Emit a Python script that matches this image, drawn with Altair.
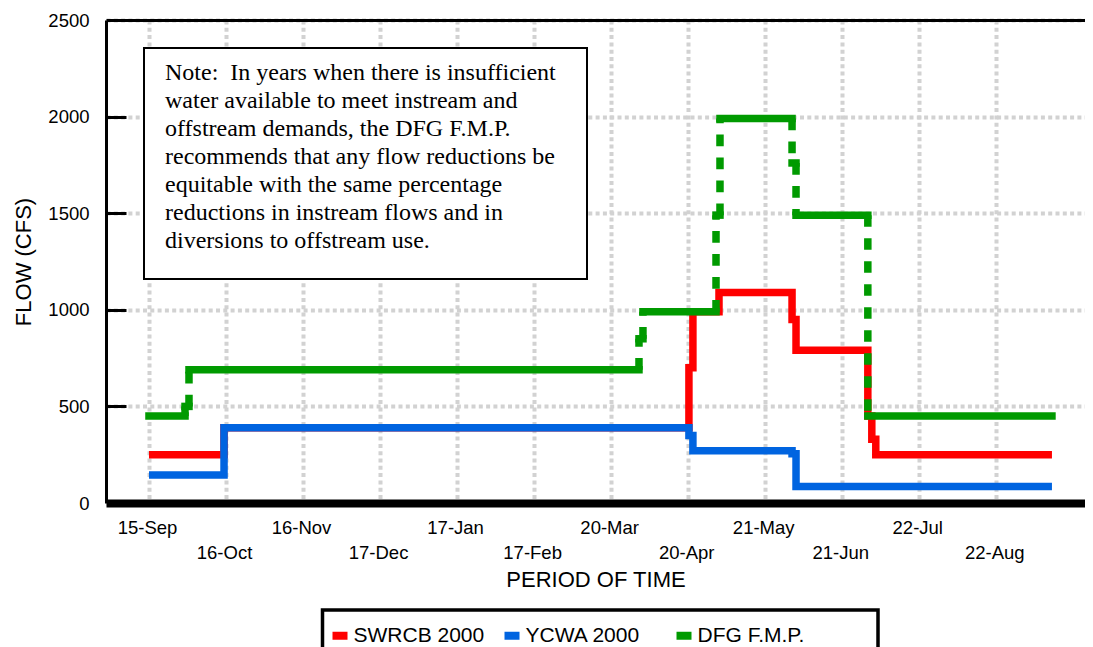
import json
import altair as alt
import pandas as pd

# ---------------- data ----------------
SERIES = ["SWRCB 2000", "YCWA 2000", "DFG F.M.P."]
COLORS = ["#ff0000", "#0064e0", "#009a00"]

# day counted from 15-Sep; step changes (value holds until next day listed)
RED_DAY = [0, 30.2, 217.3, 218.9, 229.4, 258.8, 260.4, 289.3, 290.9, 292.5, 363.4]
RED_CFS = [250, 390, 700, 990, 1090, 950, 790, 450, 330, 250, 250]

BLUE_DAY = [0, 30.2, 217.3, 218.9, 258.8, 260.4, 363.4]
BLUE_CFS = [145, 390, 350, 270, 255, 85, 85]

GREEN_DAY = [0, 14.5, 16.1, 197.2, 198.8, 228.2, 229.8, 258.8, 260.4, 289.3, 363.4]
GREEN_CFS = [450, 500, 690, 850, 990, 1490, 1990, 1760, 1490, 450, 450]

TICK_DAYS = [0, 31, 62, 93, 124, 155, 186, 217, 248, 279, 310, 341]
TICK_LABELS = ["15-Sep", "16-Oct", "16-Nov", "17-Dec", "17-Jan", "17-Feb",
               "20-Mar", "20-Apr", "21-May", "21-Jun", "22-Jul", "22-Aug"]
Y_TICKS = [0, 500, 1000, 1500, 2000, 2500]
Y_INNER_TICKS = [500, 1000, 1500, 2000]

NOTE_LINES = [
    "Note:\u00a0 In years when there is insufficient",
    "water available to meet instream and",
    "offstream demands, the DFG F.M.P.",
    "recommends that any flow reductions be",
    "equitable with the same percentage",
    "reductions in instream flows and in",
    "diversions to offstream use.",
]

# ---------------- tables ----------------
red_df = pd.DataFrame({"day": RED_DAY, "cfs": RED_CFS, "series": SERIES[0]})
blue_df = pd.DataFrame({"day": BLUE_DAY, "cfs": BLUE_CFS, "series": SERIES[1]})
green_h = pd.DataFrame({"day": GREEN_DAY[:-1], "day2": GREEN_DAY[1:],
                        "cfs": GREEN_CFS[:-1], "series": SERIES[2]})
gv = [(GREEN_DAY[i + 1], GREEN_CFS[i], GREEN_CFS[i + 1])
      for i in range(len(GREEN_DAY) - 1) if GREEN_CFS[i] != GREEN_CFS[i + 1]]
green_v = pd.DataFrame(gv, columns=["day", "cfs", "cfs2"])

# ---------------- styles ----------------
SANS = "Liberation Sans"
W, H = 979, 483
X_SCALE = alt.Scale(domain=[-17.3, 376.7], nice=False, zero=False)
Y_SCALE = alt.Scale(domain=[0, 2500], nice=False)
GRID = dict(grid=True, gridColor="#d2d2d2", gridDash=[4, 3.3], gridWidth=4)

lbl = json.dumps(TICK_LABELS)
label_expr = (f"round(datum.value/31) % 2 == 0 ? [{lbl}[round(datum.value/31)]]"
              f" : ['', {lbl}[round(datum.value/31)]]")

X_AXIS_MAIN = alt.Axis(values=TICK_DAYS, labelExpr=label_expr, labelFont=SANS,
                       labelFontSize=18.5, labelFontWeight="normal", labelColor="black",
                       labelPadding=15, labelOffset=-2,
                       labelLineHeight=25.5, labelOverlap=False, labelFlush=False,
                       ticks=False, tickSize=0, domainColor="black", domainWidth=8,
                       title="PERIOD OF TIME", titleFont=SANS, titleFontSize=22,
                       titleFontWeight="normal", titleColor="black", titlePadding=7,
                       **GRID)
Y_AXIS_MAIN = alt.Axis(values=Y_TICKS, format="d", labelFont=SANS, labelFontSize=18.5,
                       labelFontWeight="normal",
                       labelColor="black", labelPadding=17, ticks=False, tickSize=0,
                       domainColor="black", domainWidth=3, title="FLOW (CFS)",
                       titleFont=SANS, titleFontSize=22, titleFontWeight="normal",
                       titleColor="black", titlePadding=12, **GRID)
X_AXIS_TOP = alt.Axis(orient="top", labels=False, ticks=False, grid=False,
                      domainColor="black", domainWidth=3, title=None)
Y_AXIS_TICKS = alt.Axis(orient="right", offset=-W, values=Y_INNER_TICKS, labels=False,
                        domain=False, grid=False, ticks=True, tickSize=20, tickWidth=3,
                        tickColor="black", title=None)

LEGEND = alt.Legend(orient="none", legendX=222.5, legendY=604, direction="horizontal",
                    title=None, symbolType="stroke", symbolStrokeWidth=8, symbolSize=225,
                    labelFont=SANS, labelFontSize=21, labelColor="black", labelOffset=2,
                    columnPadding=4, gridAlign="all", padding=0, labelLimit=400)
COLOR = alt.Color("series:N", scale=alt.Scale(domain=SERIES, range=COLORS), legend=LEGEND)

LW = 7.5

red = alt.Chart(red_df).mark_line(interpolate="step-after", strokeWidth=LW).encode(
    x=alt.X("day:Q", scale=X_SCALE, axis=X_AXIS_MAIN),
    y=alt.Y("cfs:Q", scale=Y_SCALE, axis=Y_AXIS_MAIN),
    color=COLOR,
)
blue = alt.Chart(blue_df).mark_line(interpolate="step-after", strokeWidth=LW).encode(
    x=alt.X("day:Q", scale=X_SCALE, axis=X_AXIS_TOP),
    y=alt.Y("cfs:Q", scale=Y_SCALE, axis=Y_AXIS_TICKS),
    color=COLOR,
)
green_hl = alt.Chart(green_h).mark_rule(strokeWidth=LW, strokeCap="square").encode(
    x=alt.X("day:Q", scale=X_SCALE, axis=None),
    x2="day2:Q",
    y=alt.Y("cfs:Q", scale=Y_SCALE, axis=None),
    color=COLOR,
)
green_vl = alt.Chart(green_v).mark_rule(strokeWidth=LW, strokeDash=[11.7, 11.3],
                                        color=COLORS[2]).encode(
    x=alt.X("day:Q", scale=X_SCALE, axis=None),
    y=alt.Y("cfs:Q", scale=Y_SCALE, axis=None),
    y2="cfs2:Q",
)

one = pd.DataFrame({"k": [0]})
note_box = alt.Chart(one).mark_rect(fill="white", stroke="black", strokeWidth=2).encode(
    x=alt.value(38), x2=alt.value(481), y=alt.value(28), y2=alt.value(259))
note_text = alt.Chart(one).mark_text(align="left", baseline="alphabetic",
                                     font="Liberation Serif", fontSize=24, lineHeight=28,
                                     text=NOTE_LINES, color="black").encode(
    x=alt.value(59), y=alt.value(60))
legend_box = alt.Chart(one).mark_rect(fill="white", stroke="black", strokeWidth=3.5).encode(
    x=alt.value(216.5), x2=alt.value(772), y=alt.value(590), y2=alt.value(680))

chart = alt.layer(
    legend_box, red, blue, green_hl, green_vl, note_box, note_text
).resolve_scale(
    x="shared", y="shared", color="shared"
).resolve_axis(
    x="independent", y="independent"
).properties(
    width=W, height=H,
    autosize=alt.AutoSizeParams(type="none"),
    padding={"left": 98, "top": 12, "right": 0, "bottom": 144},
    background="white",
).configure_view(strokeOpacity=0)

chart.save("out.html", embed_options={"renderer": "svg", "actions": False})
